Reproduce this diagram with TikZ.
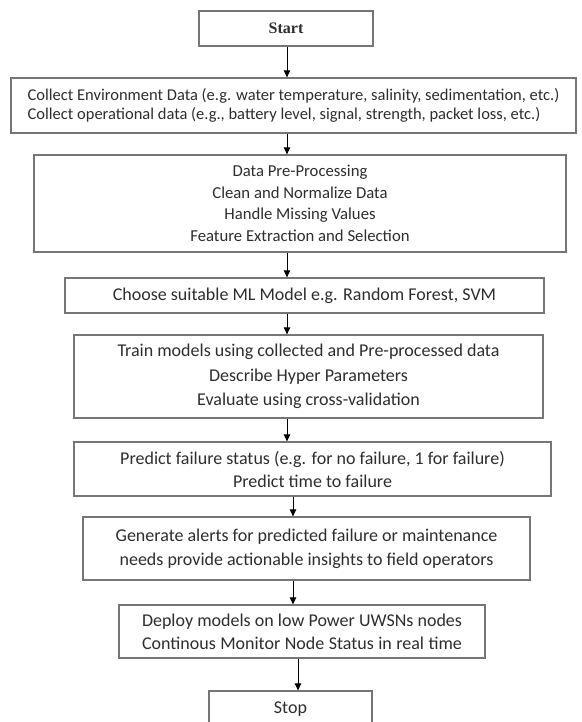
\documentclass[tikz,border=0pt]{standalone}
\usepackage{fontspec}
\setmainfont{Carlito}
\newfontfamily\startfont{Liberation Serif}
\usetikzlibrary{arrows.meta}
\definecolor{boxgray}{HTML}{767676}
\definecolor{txtgray}{HTML}{2E2E2E}
\begin{document}
\begin{tikzpicture}[x=1pt,y=-1pt,
  flowbox/.style={draw=boxgray,line width=1.3pt,fill=white,text=txtgray,inner sep=0pt,align=center},
  arr/.style={draw=black,line width=0.9pt,-{Triangle[width=6.5pt,length=7pt]}}]
\useasboundingbox[fill=white] (0,0) rectangle (581,722);
\node[flowbox,minimum width=174pt,minimum height=35pt,font=\startfont\bfseries\fontsize{16}{18}\selectfont] (start) at (286,28.5) {Start};
\node[flowbox,minimum width=565pt,minimum height=55pt,align=left,font=\fontsize{16.5}{18.5}\selectfont] (collect) at (293.5,105.5)
  {Collect Environment Data (e.g. water temperature, salinity, sedimentation, etc.)\\Collect operational data (e.g., battery level, signal, strength, packet loss, etc.)};
\node[flowbox,minimum width=532pt,minimum height=97pt,font=\fontsize{16.7}{21.5}\selectfont] (prep) at (300,203.5)
  {Data Pre-Processing\\Clean and Normalize Data\\Handle Missing Values\\Feature Extraction and Selection};
\node[flowbox,minimum width=479pt,minimum height=35pt,font=\fontsize{18}{20}\selectfont] (choose) at (304.5,295.5)
  {Choose suitable ML Model e.g. Random Forest, SVM};
\node[flowbox,minimum width=469pt,minimum height=83pt,font=\fontsize{18}{24.5}\selectfont] (train) at (308.5,376.5)
  {Train models using collected and Pre-processed data\\Describe Hyper Parameters\\Evaluate using cross-validation};
\node[flowbox,minimum width=477pt,minimum height=54pt,font=\fontsize{18}{23}\selectfont] (predict) at (312.5,469)
  {Predict failure status (e.g. for no failure, 1 for failure)\\Predict time to failure};
\node[flowbox,minimum width=447pt,minimum height=63pt,font=\fontsize{18}{24}\selectfont] (alert) at (306.5,548.5)
  {Generate alerts for predicted failure or maintenance\\needs provide actionable insights to field operators};
\node[flowbox,minimum width=366pt,minimum height=53pt,align=left,font=\fontsize{18}{23}\selectfont] (deploy) at (302,631.5)
  {\makebox[320pt][s]{Deploy models on low Power UWSNs nodes}\\\makebox[320pt][s]{Continous Monitor Node Status in real time}};
\node[flowbox,minimum width=163pt,minimum height=36pt,font=\fontsize{18}{20}\selectfont] (stop) at (290.5,709)
  {Stop};
\coordinate (xa) at (287,0);
\coordinate (xb) at (293,0);
\coordinate (xc) at (298,0);
\draw[arr] (start.south -| xa) -- (collect.north -| xa);
\draw[arr] (collect.south -| xa) -- (prep.north -| xa);
\draw[arr] (prep.south -| xa) -- (choose.north -| xa);
\draw[arr] (choose.south -| xa) -- (train.north -| xa);
\draw[arr] (train.south -| xa) -- (predict.north -| xa);
\draw[arr] (predict.south -| xb) -- (alert.north -| xb);
\draw[arr] (alert.south -| xb) -- (deploy.north -| xb);
\draw[arr] (deploy.south -| xc) -- (stop.north -| xc);
\end{tikzpicture}
\end{document}
